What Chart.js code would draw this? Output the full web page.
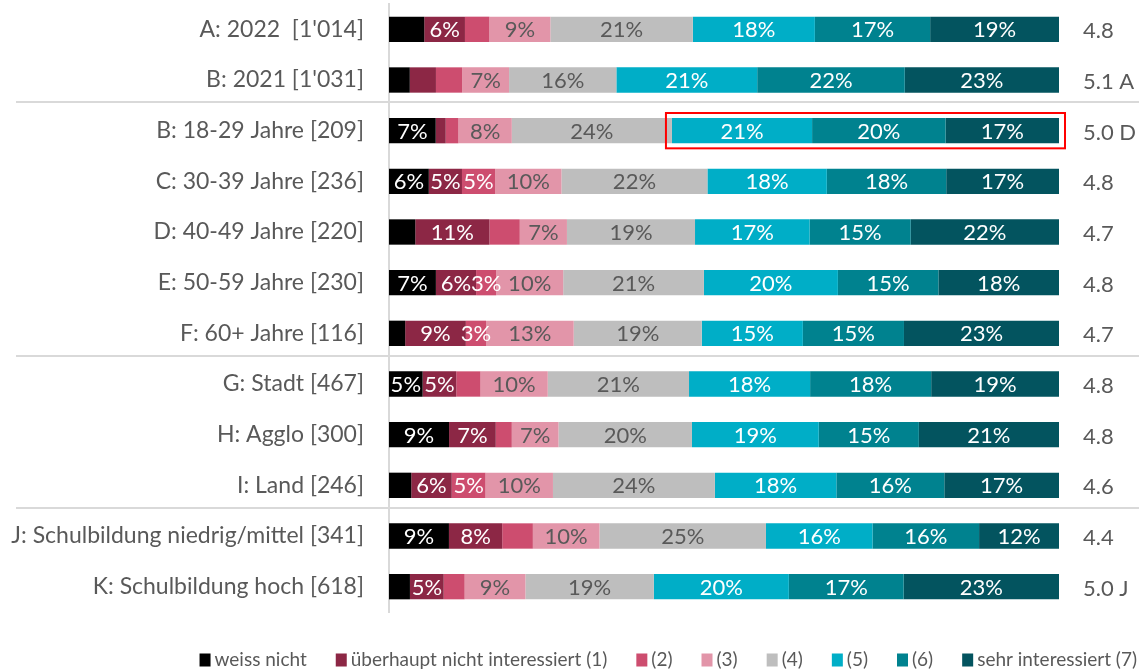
<!DOCTYPE html>
<html><head><meta charset="utf-8">
<script src="https://cdn.jsdelivr.net/npm/chart.js@4.4.1/dist/chart.umd.min.js"></script>
<style>html,body{margin:0;padding:0;background:#fff;}#wrap{width:1139px;height:670px;}</style>
</head><body><div id="wrap"><canvas id="c" width="1139" height="670"></canvas></div>
<script>
// ---- DATA ----
const categories = [
  "A: 2022  [1'014]", "B: 2021 [1'031]", "B: 18-29 Jahre [209]", "C: 30-39 Jahre [236]",
  "D: 40-49 Jahre [220]", "E: 50-59 Jahre [230]", "F: 60+ Jahre [116]", "G: Stadt [467]",
  "H: Agglo [300]", "I: Land [246]", "J: Schulbildung niedrig/mittel [341]", "K: Schulbildung hoch [618]"
];
const seriesNames = ["weiss nicht", "überhaupt nicht interessiert (1)", "(2)", "(3)", "(4)", "(5)", "(6)", "sehr interessiert (7)"];
const weissNicht = [5.2, 3.1, 7, 6, 3.9, 7, 2.4, 5, 9, 3.3, 9, 3.1];
const wert1 = [6, 3.9, 1.5, 5, 11, 6, 9, 5, 7, 6, 8, 5];
const wert2 = [3.6, 3.9, 1.9, 5, 4.5, 3, 3, 3.6, 2.4, 5, 4.6, 3.1];
const wert3 = [9, 7, 8, 10, 7, 10, 13, 10, 7, 10, 10, 9];
const wert4 = [21, 16, 24, 22, 19, 21, 19, 21, 20, 24, 25, 19];
const wert5 = [18, 21, 21, 18, 17, 20, 15, 18, 19, 18, 16, 20];
const wert6 = [17, 22, 20, 18, 15, 15, 15, 18, 15, 16, 16, 17];
const wert7 = [19, 23, 17, 17, 22, 18, 23, 19, 21, 17, 12, 23];
// rows whose segment carries no value label, per series index
const hiddenLabels = {0: [0, 1, 4, 6, 9, 11], 1: [1, 2], 2: [0, 1, 2, 4, 7, 8, 10, 11]};
const meanValues = ["4.8", "5.1", "5.0", "4.8", "4.7", "4.8", "4.7", "4.8", "4.8", "4.6", "4.4", "5.0"];
const sigLetters = ["", "A", "D", "", "", "", "", "", "", "", "", "J"];
const groupBreaks = [1, 6, 9]; // separator after these rows
const highlight = {row: 2, fromSeries: 5, toSeries: 7};

// ---- STYLE ----
const colors = ["#000000", "#8C2745", "#CD4D6F", "#E295A9", "#BEBEBE", "#00AEC7", "#00828F", "#03545F"];
const labelColors = ["#fff", "#fff", "#fff", "#595959", "#595959", "#fff", "#fff", "#fff"];
const FONT = "Lato, 'Open Sans', sans-serif";
const TXT = "#595959";

const allSeries = [weissNicht, wert1, wert2, wert3, wert4, wert5, wert6, wert7];
const rowTotals = categories.map((_, i) => allSeries.reduce((s, arr) => s + arr[i], 0));

const datasets = allSeries.map((arr, k) => ({
  label: seriesNames[k],
  data: arr.map((v, i) => v / rowTotals[i] * 100),
  raw: arr,
  backgroundColor: colors[k],
  borderWidth: 0,
  barPercentage: 0.5,
  categoryPercentage: 1.0
}));

const decorPlugin = {
  id: 'decor',
  beforeDatasetsDraw(chart) {
    const ctx = chart.ctx, y = chart.scales.y;
    ctx.save();
    ctx.strokeStyle = '#D9D9D9';
    ctx.lineWidth = 2;
    groupBreaks.forEach(b => {
      const py = Math.round((y.getPixelForValue(b) + y.getPixelForValue(b + 1)) / 2 - 3);
      ctx.beginPath(); ctx.moveTo(16, py); ctx.lineTo(chart.width, py); ctx.stroke();
    });
    ctx.restore();
  },
  afterDatasetsDraw(chart) {
    const ctx = chart.ctx;
    ctx.save();
    ctx.font = '22px ' + FONT;
    ctx.textAlign = 'center';
    ctx.textBaseline = 'middle';
    chart.data.datasets.forEach((ds, k) => {
      const meta = chart.getDatasetMeta(k);
      meta.data.forEach((el, i) => {
        if (hiddenLabels[k] && hiddenLabels[k].includes(i)) return;
        ctx.fillStyle = labelColors[k];
        ctx.fillText(Math.round(ds.raw[i]) + '%', (el.x + el.base) / 2, el.y + 1);
      });
    });
    // highlight box
    const a = chart.getDatasetMeta(highlight.fromSeries).data[highlight.row];
    const b = chart.getDatasetMeta(highlight.toSeries).data[highlight.row];
    const h = a.height;
    ctx.strokeStyle = '#FF0000';
    ctx.lineWidth = 2;
    ctx.strokeRect(Math.min(a.base, a.x) - 6, a.y - h / 2 - 5, b.x - a.base + 12, h + 10);
    // means
    ctx.font = '22px ' + FONT;
    ctx.textAlign = 'left';
    ctx.fillStyle = TXT;
    const ys = chart.scales.y;
    meanValues.forEach((m, i) => {
      const t = sigLetters[i] ? m + ' ' + sigLetters[i] : m;
      ctx.fillText(t, chart.chartArea.right + 24, ys.getPixelForValue(i) + 2);
    });
    // legend
    ctx.font = '19px ' + FONT;
    const boxW = 11, boxH = 13, gapBox = 4, gapItem = 29;
    const widths = seriesNames.map(n => ctx.measureText(n).width);
    const total = widths.reduce((s, w) => s + boxW + gapBox + w, 0) + gapItem * (seriesNames.length - 1);
    let x = 1137 - total;
    const ly = 660;
    seriesNames.forEach((n, k) => {
      ctx.fillStyle = colors[k];
      ctx.fillRect(x, ly - boxH / 2, boxW, boxH);
      x += boxW + gapBox;
      ctx.fillStyle = TXT;
      ctx.textBaseline = 'middle';
      ctx.fillText(n, x, ly);
      x += widths[k] + gapItem;
    });
    ctx.restore();
  }
};

new Chart(document.getElementById('c'), {
  type: 'bar',
  data: {labels: categories, datasets},
  options: {
    indexAxis: 'y',
    responsive: false,
    animation: false,
    devicePixelRatio: 1,
    layout: {autoPadding: false, padding: {top: 4, right: 80, bottom: 58, left: 0}},
    scales: {
      x: {stacked: true, min: 0, max: 100, display: false},
      y: {
        stacked: true,
        grid: {display: false, drawTicks: false},
        border: {display: true, color: '#D9D9D9', width: 2},
        ticks: {color: TXT, font: {family: FONT, size: 23}, padding: 25},
        afterFit(scale) {
          scale.width = 389;
          scale.paddingTop = 0;
          scale.paddingBottom = 0;
        }
      }
    },
    plugins: {legend: {display: false}, tooltip: {enabled: false}}
  },
  plugins: [decorPlugin]
});
</script></body></html>
